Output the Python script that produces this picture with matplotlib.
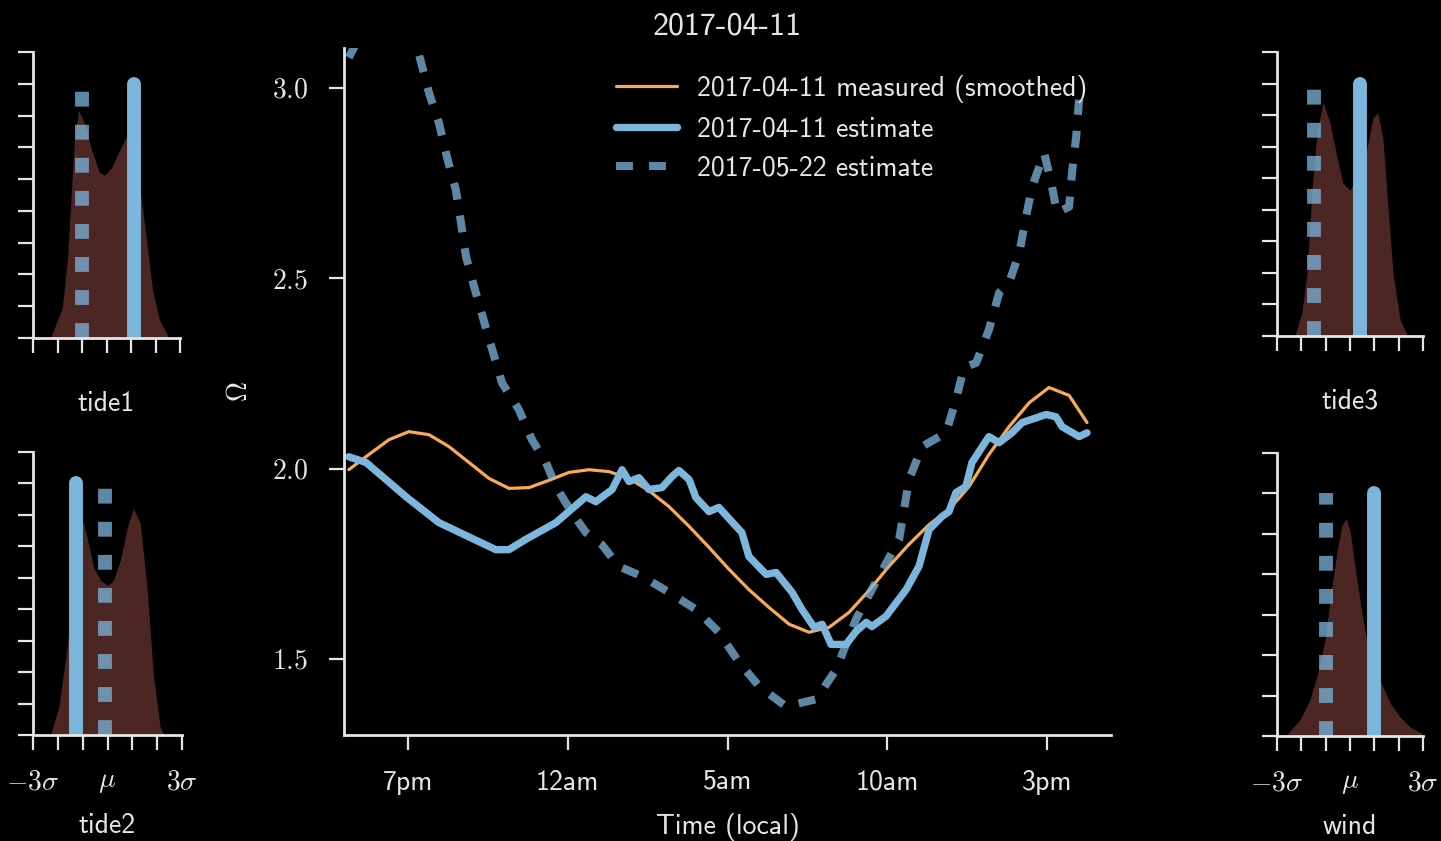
import matplotlib
matplotlib.use("Agg")
import matplotlib.pyplot as plt

BG = "black"
FG = "#e6e6e6"
ORANGE = "#f8aa55"
BLUE = "#7db6dd"
FILL = "#4b2622"

# conductivity-style index Omega over a day (hours since midnight of the first day)
hours_measured = [17.15, 17.78, 18.41, 19.03, 19.66, 20.28, 20.91, 21.54, 22.16, 22.79,
                  23.41, 24.04, 24.67, 25.29, 25.92, 26.54, 27.17, 27.80, 28.42, 29.05,
                  29.67, 30.30, 30.93, 31.55, 32.18, 32.80, 33.43, 34.05, 34.68, 35.31,
                  35.93, 36.56, 37.18, 37.81, 38.44, 39.06, 39.69, 40.25]
omega_measured = [1.997, 2.037, 2.076, 2.097, 2.089, 2.058, 2.016, 1.974, 1.948, 1.950,
                  1.969, 1.990, 1.997, 1.992, 1.974, 1.942, 1.900, 1.848, 1.793, 1.735,
                  1.682, 1.635, 1.591, 1.570, 1.583, 1.622, 1.680, 1.743, 1.801, 1.853,
                  1.892, 1.953, 2.037, 2.110, 2.173, 2.213, 2.192, 2.121]

hours_est = [17.15, 17.69, 18.94, 19.97, 21.22, 21.75, 22.16, 22.69, 23.63, 24.57,
             24.88, 25.39, 25.70, 25.92, 26.23, 26.54, 26.95, 27.26, 27.48, 27.80,
             28.01, 28.42, 28.73, 29.27, 29.45, 29.67, 30.21, 30.52, 31.02, 31.33,
             31.71, 31.96, 32.24, 32.71, 33.02, 33.34, 33.52, 33.96, 34.59, 34.99,
             35.31, 35.71, 35.93, 36.15, 36.46, 36.65, 37.18, 37.50, 37.90, 38.22,
             38.97, 39.28, 39.47, 40.00, 40.25]
omega_est = [2.031, 2.016, 1.926, 1.858, 1.808, 1.787, 1.787, 1.814, 1.858, 1.926,
             1.913, 1.945, 1.997, 1.966, 1.976, 1.945, 1.950, 1.979, 1.995, 1.971,
             1.924, 1.887, 1.898, 1.848, 1.832, 1.769, 1.722, 1.727, 1.675, 1.630,
             1.583, 1.591, 1.538, 1.538, 1.572, 1.596, 1.585, 1.612, 1.682, 1.743,
             1.840, 1.874, 1.887, 1.937, 1.953, 2.016, 2.084, 2.068, 2.094, 2.121,
             2.142, 2.136, 2.110, 2.084, 2.094]

hours_prev = [17.15, 17.90, 18.60, 19.34, 19.66, 19.97, 20.22, 20.50, 20.66, 20.82,
              21.07, 21.50, 21.94, 22.47, 22.88, 23.32, 23.63, 24.13, 24.57, 25.07,
              25.60, 26.32, 27.17, 28.01, 28.73, 29.36, 29.99, 30.83, 31.77, 32.40,
              33.02, 33.74, 34.37, 34.68, 35.09, 35.84, 36.15, 36.40, 36.78, 37.18,
              37.50, 37.81, 38.13, 38.34, 38.53, 38.91, 39.13, 39.31, 39.69, 39.78,
              39.91, 40.00]
omega_prev = [3.080, 3.200, 3.220, 3.090, 2.987, 2.908, 2.819, 2.732, 2.646, 2.556,
              2.478, 2.352, 2.226, 2.155, 2.076, 2.016, 1.953, 1.884, 1.832, 1.800,
              1.743, 1.717, 1.675, 1.630, 1.570, 1.491, 1.428, 1.375, 1.394, 1.472,
              1.604, 1.717, 1.814, 1.971, 2.058, 2.094, 2.181, 2.265, 2.278, 2.365,
              2.462, 2.488, 2.567, 2.661, 2.740, 2.829, 2.751, 2.672, 2.688, 2.777,
              2.871, 2.969]

hour_ticks = [19, 24, 29, 34, 39]
hour_labels = ["7pm", "12am", "5am", "10am", "3pm"]
omega_ticks = [1.5, 2.0, 2.5, 3.0]

# prior densities of the model parameters, in units of sigma from the mean
tide1_x = [-2.24, -1.80, -1.59, -1.43, -1.31, -1.14, -0.90, -0.61, -0.29, -0.08,
           0.20, 0.53, 0.78, 1.00, 1.20, 1.43, 1.63, 1.88, 2.16, 2.49]
tide1_d = [0.009, 0.097, 0.255, 0.465, 0.623, 0.717, 0.676, 0.591, 0.522, 0.513,
           0.535, 0.591, 0.629, 0.630, 0.560, 0.434, 0.308, 0.151, 0.057, 0.009]
tide2_x = [-2.28, -1.96, -1.68, -1.48, -1.20, -0.96, -0.80, -0.56, -0.28, 0.0,
           0.24, 0.52, 0.80, 1.04, 1.32, 1.60, 1.84, 2.12, 2.24]
tide2_d = [0.006, 0.089, 0.248, 0.387, 0.714, 0.673, 0.619, 0.533, 0.492, 0.476,
           0.492, 0.556, 0.660, 0.721, 0.673, 0.460, 0.197, 0.025, 0.006]
tide3_x = [-2.26, -1.98, -1.77, -1.56, -1.36, -1.11, -0.82, -0.53, -0.29, 0.0,
           0.41, 0.70, 0.95, 1.15, 1.36, 1.56, 1.77, 2.06, 2.35]
tide3_d = [0.003, 0.073, 0.199, 0.462, 0.642, 0.741, 0.674, 0.566, 0.484, 0.462,
           0.525, 0.598, 0.693, 0.706, 0.620, 0.408, 0.199, 0.051, 0.003]
wind_x = [-2.55, -2.06, -1.65, -1.32, -1.03, -0.82, -0.53, -0.33, -0.16, 0.0,
          0.21, 0.49, 0.74, 1.00, 1.28, 1.65, 2.06, 2.47, 2.96]
wind_d = [0.007, 0.040, 0.089, 0.156, 0.237, 0.336, 0.459, 0.521, 0.538, 0.509,
          0.417, 0.304, 0.220, 0.170, 0.131, 0.081, 0.047, 0.022, 0.007]

# parameter estimates (sigma units) for the two days
est_now = {"tide1": 1.14, "tide2": -1.27, "tide3": 0.41, "wind": 1.00}
est_prev = {"tide1": -1.02, "tide2": -0.12, "tide3": -1.48, "wind": -1.00}
line_top = {"tide1": 0.8, "tide2": 0.8, "tide3": 0.8, "wind": 0.6}
panel_ymax = {"tide1": 0.9, "tide2": 0.9, "tide3": 0.9, "wind": 0.7}

plt.rcParams.update({
    "font.family": "cmss10",
    "mathtext.fontset": "cm",
    "axes.formatter.use_mathtext": True,
    "font.size": 20,
    "text.color": FG,
    "axes.labelcolor": FG,
    "axes.edgecolor": FG,
    "axes.linewidth": 2,
    "xtick.color": FG,
    "ytick.color": FG,
    "xtick.major.size": 11,
    "ytick.major.size": 11,
    "xtick.major.width": 1.6,
    "ytick.major.width": 1.6,
    "xtick.major.pad": 14,
    "ytick.major.pad": 15,
})

W, H = 1441, 841
fig = plt.figure(figsize=(W / 100, H / 100), dpi=100, facecolor=BG)


def px_axes(left, bottom, right, top):
    return fig.add_axes([left / W, 1 - bottom / H, (right - left) / W, (bottom - top) / H])


def despine(ax):
    ax.set_facecolor(BG)
    ax.spines["top"].set_visible(False)
    ax.spines["right"].set_visible(False)


# main time series
ax = px_axes(344, 735, 1111, 48)
despine(ax)
ax.plot(hours_measured, omega_measured, color=ORANGE, lw=2.3,
        solid_capstyle="round", solid_joinstyle="round",
        label="2017-04-11 measured (smoothed)")
ax.plot(hours_est, omega_est, color=BLUE, lw=5.3, solid_capstyle="round",
        solid_joinstyle="round", label="2017-04-11 estimate")
ax.plot(hours_prev, omega_prev, color=BLUE, alpha=0.75, lw=5.8,
        dashes=(2.1, 2.0), dash_capstyle="butt", label="2017-05-22 estimate")
ax.set_xlim(17, 41)
ax.set_ylim(1.3, 3.105)
ax.set_xticks(hour_ticks)
ax.set_xticklabels(hour_labels)
ax.set_yticks(omega_ticks)
ax.set_yticklabels([rf"${v:.1f}$" for v in omega_ticks])
ax.set_xlabel("Time (local)", labelpad=13)
ax.set_ylabel(r"$\Omega$", labelpad=14)
ax.set_title("2017-04-11", fontsize=23, pad=10)
ax.legend(loc="upper left", bbox_to_anchor=(0.3546, 0.961), frameon=False,
          borderpad=0, borderaxespad=0, handlelength=2.2, handletextpad=0.7,
          labelspacing=0.5)

# parameter panels
panels = [
    ("tide1", tide1_x, tide1_d, (33, 338, 180, 52), False),
    ("tide2", tide2_x, tide2_d, (33, 735, 182, 452), True),
    ("tide3", tide3_x, tide3_d, (1277, 336, 1423, 52), False),
    ("wind", wind_x, wind_d, (1277, 736, 1423, 453), True),
]
for name, xs, ds, box, labelled in panels:
    pax = px_axes(*box)
    despine(pax)
    pax.fill_between(xs, ds, color=FILL, lw=0)
    top = line_top[name]
    pax.plot([est_now[name]] * 2, [0, top], color=BLUE, lw=10,
             solid_capstyle="round")
    pax.plot([est_prev[name]] * 2, [0, top], color=BLUE, alpha=0.75, lw=10,
             dashes=(1.07, 1.31), dash_capstyle="butt")
    pax.set_xlim(-3, 3)
    pax.set_ylim(0, panel_ymax[name])
    pax.set_xticks(range(-3, 4))
    pax.set_yticks([i / 10 for i in range(int(round(panel_ymax[name] * 10)) + 1)])
    pax.set_yticklabels([])
    if labelled:
        pax.set_xticklabels([r"$-3\sigma$", "", "", r"$\mu$", "", "", r"$3\sigma$"])
        pax.set_xlabel(name, labelpad=13)
    else:
        pax.set_xticklabels([])
        pax.set_xlabel(name, labelpad=13)

fig.savefig("out.png", dpi=100, facecolor=BG)
